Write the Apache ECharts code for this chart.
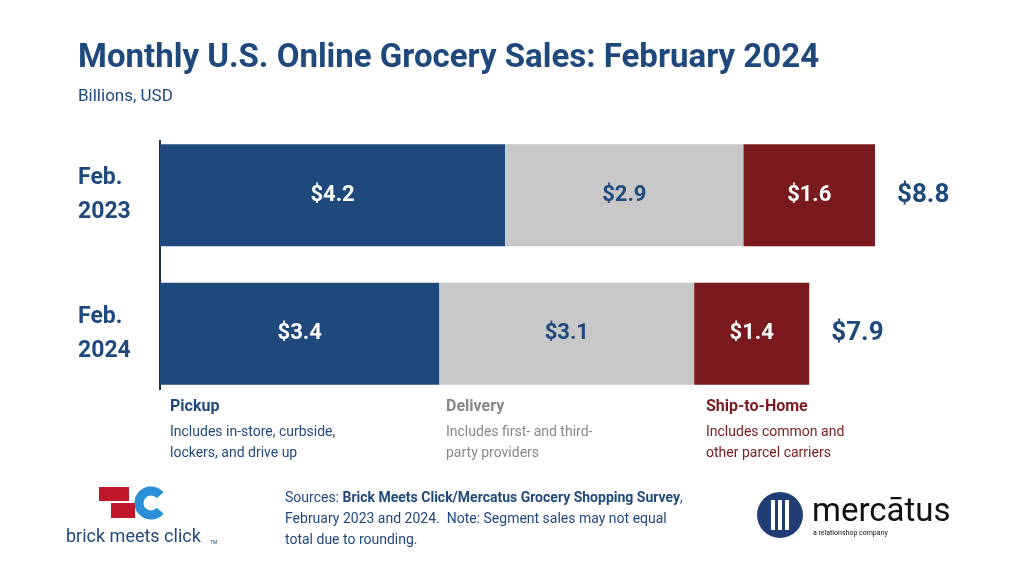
<!DOCTYPE html>
<html>
<head>
<meta charset="utf-8">
<script src="https://cdn.jsdelivr.net/npm/echarts@6/dist/echarts.min.js"></script>
<style>
    html, body {margin: 0; padding: 0; background: #fff;}
    #chart {width: 1024px; height: 576px;}
</style>
</head>
<body>
<div id="chart"></div>
<script>
const categories = ['Feb.\n2023', 'Feb.\n2024'];
const pickup = [4.2, 3.4];
const delivery = [2.9, 3.1];
const shipToHome = [1.6, 1.4];
const totals = ['$8.8', '$7.9'];

const BLUE = '#1f497d';
const GRAY = '#c8c8c8';
const RED = '#7a1a1e';
const FONT = 'Roboto';

const chart = echarts.init(document.getElementById('chart'));

function segment(name, data, color, textColor) {
    return {
        name: name
        , type: 'bar'
        , stack: 'sales'
        , data: data
        , barWidth: 102
        , itemStyle: {color: color}
        , label: {
            show: true
            , position: 'inside'
            , color: textColor
            , fontFamily: FONT
            , fontWeight: 'bold'
            , fontSize: 22
            , formatter: function (p) { return '$' + p.value.toFixed(1); }
        }
    };
}

function legendBlock(x, title, lines, color, textColor) {
    return [
        {type: 'text', left: x, top: 399, style: {text: title, fill: color, font: 'bold 16px ' + FONT}}
        , {type: 'text', left: x, top: 422, style: {text: lines, fill: textColor, font: '14px ' + FONT, lineHeight: 21}}
    ];
}

chart.setOption({
    animation: false
    , grid: {left: 160, top: 126, width: 715, height: 277}
    , xAxis: {type: 'value', min: 0, max: 8.7, show: false}
    , yAxis: {
        type: 'category'
        , data: categories
        , inverse: true
        , axisLine: {show: false}
        , axisTick: {show: false}
        , axisLabel: {
            margin: 82
            , align: 'left'
            , color: BLUE
            , fontFamily: FONT
            , fontWeight: 'bold'
            , fontSize: 23
            , lineHeight: 34
            , padding: [6, 0, 0, 0]
        }
    }
    , series: [
        segment('Pickup', pickup, BLUE, '#fff')
        , segment('Delivery', delivery, GRAY, BLUE)
        , segment('Ship-to-Home', shipToHome, RED, '#fff')
        , {
            name: 'Total'
            , type: 'bar'
            , stack: 'sales'
            , data: [0, 0]
            , barWidth: 102
            , label: {
                show: true
                , position: 'right'
                , distance: 22
                , color: BLUE
                , fontFamily: FONT
                , fontWeight: 'bold'
                , fontSize: 26
                , formatter: function (p) { return totals[p.dataIndex]; }
            }
        }
    ]
    , graphic: [
        {type: 'text', left: 78, top: 42, style: {text: 'Monthly U.S. Online Grocery Sales: February 2024', fill: BLUE, font: 'bold 33px ' + FONT}}
        , {type: 'text', left: 78, top: 88, style: {text: 'Billions, USD', fill: BLUE, font: '17px ' + FONT}}
        , {type: 'line', shape: {x1: 160, y1: 140, x2: 160, y2: 390}, style: {stroke: '#1f2f45', lineWidth: 2}}
    ]
        .concat(legendBlock(170, 'Pickup', 'Includes in-store, curbside,\nlockers, and drive up', BLUE, BLUE))
        .concat(legendBlock(446, 'Delivery', 'Includes first- and third-\nparty providers', '#888', '#888'))
        .concat(legendBlock(706, 'Ship-to-Home', 'Includes common and\nother parcel carriers', RED, RED))
        .concat([
            {type: 'text', left: 285, top: 491, style: {
                text: '{n|Sources: }{b|Brick Meets Click/Mercatus Grocery Shopping Survey}{n|,}\n{n|February 2023 and 2024.  Note: Segment sales may not equal}\n{n|total due to rounding.}'
                , rich: {
                    n: {fill: BLUE, font: '14px ' + FONT, lineHeight: 21}
                    , b: {fill: BLUE, font: 'bold 14px ' + FONT, lineHeight: 21}
                }
            }}
            // brick meets click logo
            , {type: 'rect', shape: {x: 99, y: 487, width: 30, height: 14}, style: {fill: '#c0182a'}}
            , {type: 'rect', shape: {x: 111, y: 503, width: 24, height: 15}, style: {fill: '#c0182a'}}
            , {type: 'arc', shape: {cx: 151, cy: 503, r: 12, startAngle: 0.7, endAngle: -0.7, clockwise: true}, style: {stroke: '#2a8fd6', lineWidth: 9, fill: null}}
            , {type: 'text', left: 66, top: 528, style: {text: 'brick meets click', fill: BLUE, font: '18px ' + FONT}}
            , {type: 'text', left: 210, top: 540, style: {text: 'TM', fill: BLUE, font: '5px ' + FONT}}
            // mercatus logo
            , {type: 'circle', shape: {cx: 780, cy: 515, r: 23}, style: {fill: '#203e74'}}
            , {type: 'rect', shape: {x: 771, y: 500, width: 4, height: 30}, style: {fill: '#fff'}}
            , {type: 'rect', shape: {x: 778, y: 500, width: 4, height: 30}, style: {fill: '#fff'}}
            , {type: 'rect', shape: {x: 785, y: 500, width: 4, height: 30}, style: {fill: '#fff'}}
            , {type: 'text', left: 812, top: 496, style: {text: 'mercātus', fill: '#111', font: '33px ' + FONT}}
            , {type: 'text', left: 813, top: 530, style: {text: 'a relationshop company', fill: '#111', font: '7px ' + FONT}}
        ])
});
</script>
</body>
</html>
